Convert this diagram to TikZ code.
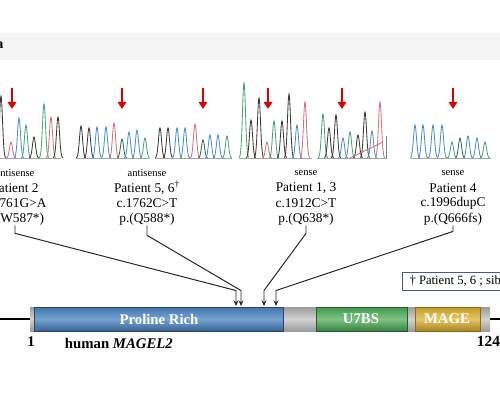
\documentclass[tikz,border=0pt]{standalone}
\usepackage{fontspec}
\setmainfont{Liberation Serif}
\usetikzlibrary{arrows.meta}

\definecolor{cblack}{HTML}{3A3A3A}
\definecolor{cblue}{HTML}{4A8FC8}
\definecolor{cgreen}{HTML}{45A570}
\definecolor{cdgreen}{HTML}{2C6E45}
\definecolor{cpink}{HTML}{D8707F}
\definecolor{barblue}{HTML}{4275AE}
\definecolor{barblueL}{HTML}{76A2D2}
\definecolor{bargreen}{HTML}{3F9A4C}
\definecolor{bargreenL}{HTML}{7CC283}
\definecolor{bargold}{HTML}{C49A22}
\definecolor{bargoldL}{HTML}{E6C868}
\definecolor{bargray}{HTML}{9C9C9C}
\definecolor{bargrayL}{HTML}{D2D2D2}
\definecolor{boxblue}{HTML}{4A5C80}

\tikzset{
  trace/.style={line width=0.6pt},
  baseln/.style={line width=0.4pt, black!35},
  redarr/.style={-{Triangle[width=6pt,length=5pt]}, line width=1.4pt, red!85!black},
  strand/.style={font=\fontsize{7.5}{8}\selectfont, inner sep=0pt},
  mut/.style={font=\fontsize{9.5}{10}\selectfont, inner sep=0pt},
  lead/.style={-{Stealth[width=3.5pt,length=4pt]}, line width=0.7pt, black!85},
  domlabel/.style={font=\fontsize{10.5}{11}\selectfont\bfseries, white},
  notebox/.style={draw=boxblue, line width=0.7pt, fill=white, font=\fontsize{9}{10}\selectfont,
    minimum height=12.8pt, inner xsep=5pt, inner ysep=0pt},
}

% one chromatogram peak: x position, height, colour
\newcommand{\chrompeak}[3]{%
  \draw[trace, #3] plot[domain=-4.8:4.8, samples=21, smooth]
    ({#1+\x}, {158-#2*exp(-((\x)*(\x))/4.6)});
}

\begin{document}
\begin{tikzpicture}[x=0.025cm, y=-0.025cm]
\useasboundingbox (0,0) rectangle (500,400);

% header band and panel letter
\fill[black!4] (0,33) rectangle (500,60);
\node[font=\bfseries\fontsize{10}{10}\selectfont] (panel) at (0,45) {a};

% Chromatogram traces
\foreach \px/\ph/\pc in {1/62/cblack, 11/16/cpink, 19/40/cblue, 26/33/cgreen, 34/21/cblack,
    44/54/cgreen, 51/41/cpink, 58/41/cblack}
  \chrompeak{\px}{\ph}{\pc};
\draw[baseln] (0,158) -- (61,158);

\foreach \px/\ph/\pc in {81/32/cblack, 89/30/cblack, 97/31/cblue, 106/31/cblue, 114/35/cpink,
    122/19/cdgreen, 129/26/cblue, 137/28/cblue, 145/20/cgreen}
  \chrompeak{\px}{\ph}{\pc};
\draw[baseln] (76,158) -- (149,158);

\foreach \px/\ph/\pc in {160/30/cblack, 168/30/cblack, 177/30/cblue, 185/30/cblue, 195/34/cpink,
    203/18/cdgreen, 210/23/cblue, 218/23/cblue, 227/22/cgreen}
  \chrompeak{\px}{\ph}{\pc};
\draw[baseln] (155,158) -- (232,158);

\foreach \px/\ph/\pc in {244/75/cgreen, 251/38/cblack, 259/60/cblack, 267/16/cpink, 274/37/cgreen,
    282/37/cblack, 289/64/cblack, 297/33/cblue, 305/56/cpink}
  \chrompeak{\px}{\ph}{\pc};
\draw[baseln] (239,158) -- (312,158);

\foreach \px/\ph/\pc in {323/44/cgreen, 329/30/cblack, 336/43/cblack, 343/20/cblue, 350/26/cgreen,
    358/23/cblack, 365/46/cblack, 372/27/cblue, 380/56/cpink}
  \chrompeak{\px}{\ph}{\pc};
\draw[trace, cpink] (350,158) -- (383,142);
\draw[trace, cgreen!70!cblue] (386,158) -- (386,136);
\draw[baseln] (317,158) -- (387,158);

\foreach \px/\ph/\pc in {415/33/cblue, 423/33/cblue, 433/33/cblue, 442/33/cblue, 452/16/cgreen,
    460/20/cdgreen, 468/22/cblue, 477/20/cblue, 485/16/cgreen}
  \chrompeak{\px}{\ph}{\pc};
\draw[baseln] (411,158) -- (491,158);

% Red arrows at the variant position
\foreach \ax in {12,122,203,268,342,453}
  \draw[redarr] (\ax,88) -- (\ax,109);

% Variant descriptions
\node[strand] (st1) at (15,173) {antisense};
\node[mut] (pt1) at (15,188) {Patient 2};
\node[mut] (cd1) at (15,203) {c.1761G>A};
\node[mut] (pr1) at (15,219) {p.(W587*)};

\node[strand] (st2) at (147,173) {antisense};
\node[mut] (pt2) at (147,188) {Patient 5, 6\textsuperscript{†}};
\node[mut] (cd2) at (147,203) {c.1762C>T};
\node[mut] (pr2) at (147,219) {p.(Q588*)};

\node[strand] (st3) at (306,173) {sense};
\node[mut] (pt3) at (306,188) {Patient 1, 3};
\node[mut] (cd3) at (306,203) {c.1912C>T};
\node[mut] (pr3) at (306,219) {p.(Q638*)};

\node[strand] (st4) at (453,173) {sense};
\node[mut] (pt4) at (453,188) {Patient 4};
\node[mut] (cd4) at (453,203) {c.1996dupC};
\node[mut] (pr4) at (453,219) {p.(Q666fs)};

% Protein bar
\draw[line width=1.2pt] (0,319) -- (30,319);
\draw[line width=1.2pt] (490,319) -- (500,319);
\shade[top color=bargray, bottom color=bargray, middle color=bargrayL] (30,307) rectangle (490,331);
\shade[draw=barblue!60!black, line width=0.5pt, top color=barblue, bottom color=barblue!85!black,
  middle color=barblueL] (34,307) rectangle (283,331);
\shade[draw=bargreen!60!black, line width=0.5pt, top color=bargreen, bottom color=bargreen!85!black,
  middle color=bargreenL] (316,307) rectangle (407,331);
\shade[draw=bargold!70!black, line width=0.5pt, top color=bargold, bottom color=bargold!85!black,
  middle color=bargoldL] (415,307) rectangle (480,331);
\node[domlabel] (prorich) at (159,319) {Proline Rich};
\node[domlabel] (u7bs) at (361,319) {U7BS};
\node[domlabel] (mage) at (447,319) {MAGE};

% Mutation sites on the bar
\coordinate (t1) at (236,306);
\coordinate (t2) at (241,306);
\coordinate (t3) at (264,306);
\coordinate (t4) at (276,306);
\draw[lead] (pr1.south) -- ++(0,8) -- ([yshift=11pt]t1) -- (t1);
\draw[lead] (pr2.south) -- ++(0,10) -- ([yshift=11pt]t2) -- (t2);
\draw[lead] (pr3.south) -- ++(0,8) -- ([yshift=11pt]t3) -- (t3);
\draw[lead] (pr4.south) -- ++(0,6) -- ([yshift=11pt]t4) -- (t4);

% Labels
\node[font=\bfseries\fontsize{10.5}{11}\selectfont] (start) at (31,342) {1};
\node[font=\bfseries\fontsize{10.5}{11}\selectfont, anchor=west] (gene) at (60,343) {human \textit{MAGEL2}};
\node[font=\bfseries\fontsize{11}{11}\selectfont, anchor=west] (stop) at (472,341) {1249};
\node[notebox, anchor=west] (sibs) at (402,281) {† Patient 5, 6 ; siblings};
\end{tikzpicture}
\end{document}
